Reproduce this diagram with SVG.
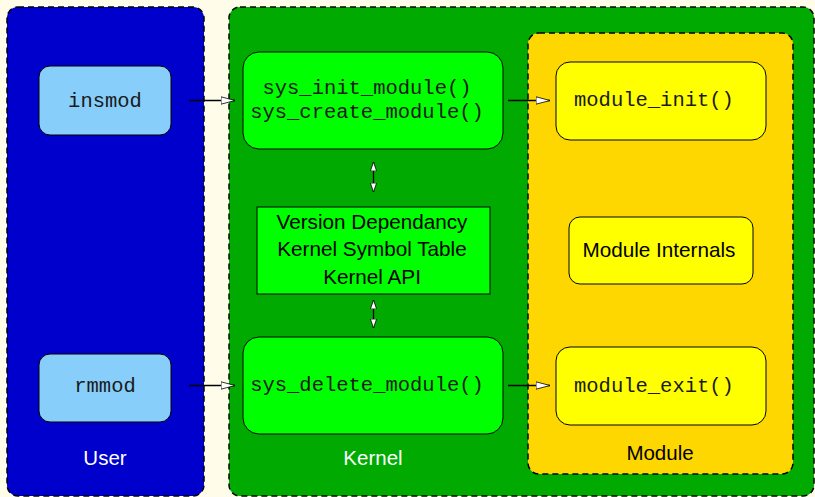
<svg xmlns="http://www.w3.org/2000/svg" width="815" height="497" viewBox="0 0 815 497">
<style>
.panel{stroke:#000;stroke-width:1.5;stroke-dasharray:6,4}
.box{stroke:#000;stroke-width:1}
.mono{font-family:"Liberation Mono","Courier New",monospace;font-size:20.5px;fill:#1a1a1a}
.sans{font-family:"Liberation Sans",Arial,sans-serif;font-size:20.7px;fill:#000}
.lbl{font-family:"Liberation Sans",Arial,sans-serif;font-size:20.5px;text-anchor:middle}
.c{stroke:#000;stroke-width:1.3;fill:none}
</style>
<defs>
<marker id="ah" markerUnits="userSpaceOnUse" markerWidth="16" markerHeight="10" refX="14" refY="4.5" orient="auto">
<path d="M0,0.8 L14,4.5 L0,8.2 Z" fill="#fff" stroke="#000" stroke-width="0.8"/>
</marker>
<marker id="sh" markerUnits="userSpaceOnUse" markerWidth="10" markerHeight="8" refX="9" refY="3.5" orient="auto-start-reverse">
<path d="M0,0.4 L9,3.5 L0,6.6 Z" fill="#fff" stroke="#000" stroke-width="0.8"/>
</marker>
</defs>
<rect width="815" height="497" fill="#fffdea"/>
<g id="user">
<rect class="panel" x="7" y="7" width="197" height="489" rx="11" fill="#0000cc"/>
<text class="lbl" x="105" y="465" fill="#fff">User</text>
</g>
<g id="kernel">
<rect class="panel" x="229" y="7" width="585" height="489" rx="11" fill="#00aa00"/>
<text class="lbl" x="373" y="465" fill="#fff">Kernel</text>
</g>
<g id="module">
<rect class="panel" x="528" y="33" width="265" height="441" rx="11" fill="#ffd700"/>
<text class="lbl" x="660" y="460" fill="#000">Module</text>
</g>
<g id="insmod">
<rect class="box" x="39" y="66" width="132" height="69" rx="11" fill="#87cefa"/>
<text class="mono" x="105" y="107" text-anchor="middle">insmod</text>
</g>
<g id="rmmod">
<rect class="box" x="39" y="354" width="132" height="68" rx="11" fill="#87cefa"/>
<text class="mono" x="105" y="392" text-anchor="middle">rmmod</text>
</g>
<g id="sys_init">
<rect class="box" x="243" y="52" width="260" height="97" rx="16" fill="#00ff00"/>
<text class="mono" x="367" y="94" text-anchor="middle">sys_init_module()</text>
<text class="mono" x="367" y="118" text-anchor="middle">sys_create_module()</text>
</g>
<g id="version">
<rect class="box" x="257" y="207" width="233" height="87" fill="#00ff00"/>
<text class="sans" x="372" y="229" text-anchor="middle">Version Dependancy</text>
<text class="sans" x="372" y="256" text-anchor="middle">Kernel Symbol Table</text>
<text class="sans" x="372" y="284" text-anchor="middle">Kernel API</text>
</g>
<g id="sys_delete">
<rect class="box" x="243" y="337" width="260" height="97" rx="16" fill="#00ff00"/>
<text class="mono" x="367" y="391" text-anchor="middle">sys_delete_module()</text>
</g>
<g id="module_init">
<rect class="box" x="556" y="62" width="210" height="78" rx="14" fill="#ffff00"/>
<text class="mono" x="574" y="106">module_init()</text>
</g>
<g id="internals">
<rect class="box" x="569" y="217" width="184" height="67" rx="11" fill="#ffff00"/>
<text class="sans" x="659" y="257" text-anchor="middle">Module Internals</text>
</g>
<g id="module_exit">
<rect class="box" x="556" y="347" width="210" height="78" rx="14" fill="#ffff00"/>
<text class="mono" x="574" y="392">module_exit()</text>
</g>
<g id="connectors">
<line class="c" x1="189" y1="100.5" x2="235" y2="100.5" marker-end="url(#ah)"/>
<line class="c" x1="508" y1="100.5" x2="550" y2="100.5" marker-end="url(#ah)"/>
<line class="c" x1="189" y1="385.5" x2="235" y2="385.5" marker-end="url(#ah)"/>
<line class="c" x1="508" y1="385.5" x2="550" y2="385.5" marker-end="url(#ah)"/>
<line class="c" x1="373.5" y1="162" x2="373.5" y2="192" marker-start="url(#sh)" marker-end="url(#sh)"/>
<line class="c" x1="373.5" y1="300" x2="373.5" y2="328" marker-start="url(#sh)" marker-end="url(#sh)"/>
</g>
</svg>
